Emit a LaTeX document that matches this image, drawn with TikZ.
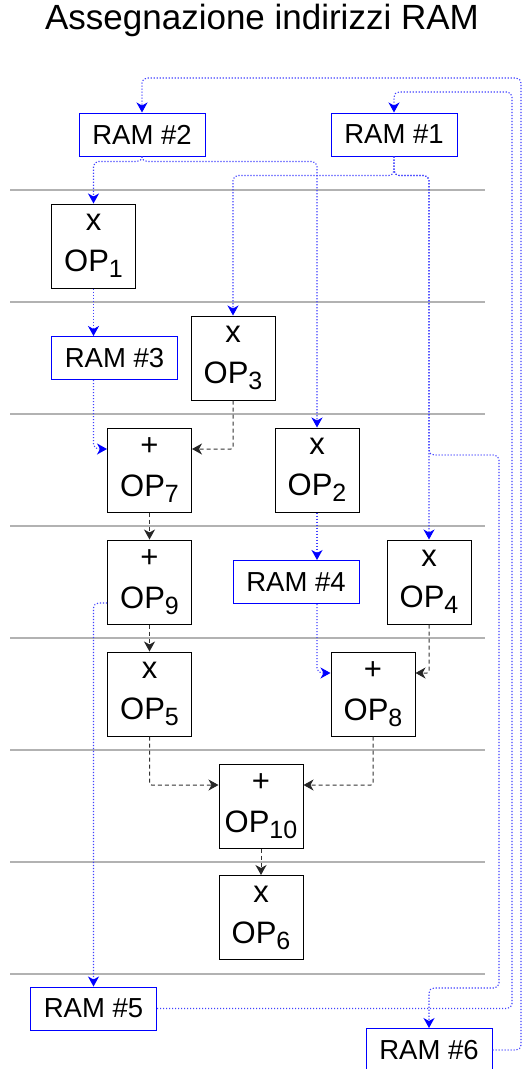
\documentclass[tikz,border=0pt]{standalone}
\usepackage{fontspec}
\setmainfont{Liberation Sans}
\usetikzlibrary{positioning, arrows.meta, calc}

\newcommand{\opsub}[1]{\raisebox{-6pt}{\fontsize{25}{25}\selectfont #1}}

\begin{document}
\begin{tikzpicture}[x=1pt, y=-1pt,
    opbox/.style={draw, rectangle, line width=1pt, minimum width=84pt, minimum height=84pt, inner sep=0pt, align=center, font=\fontsize{31}{41}\selectfont, execute at begin node=\rule{0pt}{22pt}},
    rambox/.style={draw=blue, rectangle, line width=1pt, minimum width=126pt, minimum height=43pt, inner sep=0pt, font=\fontsize{27.5}{30}\selectfont},
    ramlink/.style={blue!75, line width=1.1pt, dash pattern=on 1.2pt off 1.8pt, rounded corners=5pt, -{Stealth[length=10pt, width=11pt, inset=3pt, blue]}},
    datalink/.style={black!80, line width=1pt, dash pattern=on 4pt off 3pt, rounded corners=2pt, -{Stealth[length=10pt, width=11pt, inset=3pt, black!85]}},
    stepline/.style={gray!60, line width=1.2pt}]
      \useasboundingbox (0,0) rectangle (523,1069);

      \node[font=\fontsize{35}{40}\selectfont] (title) at (262,20) {Assegnazione indirizzi RAM};

      \foreach \y in {190,302,414,526,638,750,862,974}
        \draw[stepline] (10,\y) -- (485,\y);

      \node[rambox] (ram2) at (142,134.5) {RAM \#2};
      \node[rambox] (ram1) at (394,134.5) {RAM \#1};
      \node[opbox] (op1) at (93.5,246) {x\\OP\opsub{1}};
      \node[rambox] (ram3) at (114.5,358) {RAM \#3};
      \node[opbox] (op3) at (233,358) {x\\OP\opsub{3}};
      \node[opbox] (op7) at (149.5,470) {+\\OP\opsub{7}};
      \node[opbox] (op2) at (317,470) {x\\OP\opsub{2}};
      \node[opbox] (op9) at (149.5,582) {+\\OP\opsub{9}};
      \node[rambox] (ram4) at (296,582) {RAM \#4};
      \node[opbox] (op4) at (429,582) {x\\OP\opsub{4}};
      \node[opbox] (op5) at (149.5,694) {x\\OP\opsub{5}};
      \node[opbox] (op8) at (373,694) {+\\OP\opsub{8}};
      \node[opbox] (op10) at (261,806) {+\\OP\opsub{10}};
      \node[opbox] (op6) at (261,917.5) {x\\OP\opsub{6}};
      \node[rambox] (ram5) at (93.5,1008.5) {RAM \#5};
      \node[rambox] (ram6) at (429,1050) {RAM \#6};

      \coordinate (rr1) at (512,92);
      \coordinate (rr2) at (521,78);
      \coordinate (rb1) at (499,455);
      \coordinate (rb2) at (499,988);

      \draw[ramlink] (ram2.south) -- ++(0,5) -| (op1.north);
      \draw[ramlink] (ram2.south) -- ++(0,5) -| (op2.north);
      \draw[ramlink] (ram1.south) -- ++(0,19) -| (op3.north);
      \draw[ramlink] (ram1.south) -- ++(0,19) -| (op4.north);
      \draw[ramlink] (ram1.south) -- ++(0,19) -| (rb1 -| op4.north) -- (rb1) -- (rb2) -| (ram6.north);
      \draw[ramlink] (op1.south) -- (op1.south |- ram3.north);
      \draw[ramlink] (op1.south |- ram3.south) |- ([yshift=21pt]op7.west);
      \draw[ramlink] (op2.south) -- (op2.south |- ram4.north);
      \draw[ramlink] (op2.south |- ram4.south) |- ([yshift=21pt]op8.west);
      \draw[ramlink] ([yshift=-21pt]op9.west) -| (ram5.north);
      \draw[ramlink] (ram5.east) -| (rr1) -| (ram1.north);
      \draw[ramlink] (ram6.east) -| (rr2) -| (ram2.north);

      \draw[datalink] (op3.south) |- ([yshift=21pt]op7.east);
      \draw[datalink] (op4.south) |- ([yshift=21pt]op8.east);
      \draw[datalink] (op7) -- (op9);
      \draw[datalink] (op9) -- (op5);
      \draw[datalink] (op5.south) |- ([yshift=21pt]op10.west);
      \draw[datalink] (op8.south) |- ([yshift=21pt]op10.east);
      \draw[datalink] (op10) -- (op6);
    \end{tikzpicture}
\end{document}
